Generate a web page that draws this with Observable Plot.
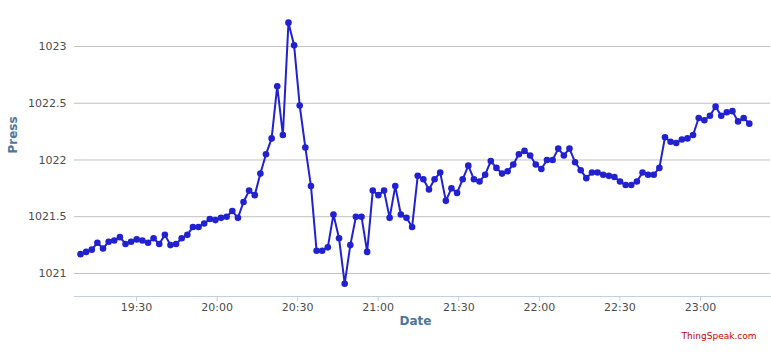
<!DOCTYPE html>
<html>
<head>
<meta charset="utf-8">
<script src="https://cdn.jsdelivr.net/npm/d3@7"></script>
<script src="https://cdn.jsdelivr.net/npm/@observablehq/plot@0.6"></script>
<style>
  html, body { margin: 0; padding: 0; background: #fff; }
  #chart { width: 771px; height: 358px; }
</style>
</head>
<body>
<div id="chart"></div>
<script>
const times = [
  "19:09:10","19:11:16","19:13:21","19:15:26","19:17:32","19:19:38","19:21:43","19:23:49","19:25:55","19:28:00",
  "19:30:05","19:32:11","19:34:17","19:36:22","19:38:28","19:40:34","19:42:39","19:44:44","19:46:50","19:48:56",
  "19:51:01","19:53:07","19:55:12","19:57:18","19:59:23","20:01:29","20:03:34","20:05:40","20:07:46","20:09:51",
  "20:11:56","20:14:02","20:16:08","20:18:13","20:20:19","20:22:24","20:24:30","20:26:35","20:28:41","20:30:46",
  "20:32:52","20:34:58","20:37:03","20:39:08","20:41:14","20:43:20","20:45:25","20:47:31","20:49:37","20:51:42",
  "20:53:47","20:55:53","20:57:59","21:00:04","21:02:10","21:04:15","21:06:21","21:08:26","21:10:32","21:12:37",
  "21:14:43","21:16:49","21:18:54","21:20:59","21:23:05","21:25:11","21:27:16","21:29:22","21:31:27","21:33:33",
  "21:35:38","21:37:44","21:39:49","21:41:55","21:44:01","21:46:06","21:48:11","21:50:17","21:52:23","21:54:28",
  "21:56:34","21:58:40","22:00:45","22:02:50","22:04:56","22:07:02","22:09:07","22:11:13","22:13:18","22:15:24",
  "22:17:29","22:19:35","22:21:40","22:23:46","22:25:52","22:27:57","22:30:02","22:32:08","22:34:14","22:36:19",
  "22:38:25","22:40:30","22:42:36","22:44:41","22:46:47","22:48:52","22:50:58","22:53:04","22:55:09","22:57:14",
  "22:59:20","23:01:26","23:03:31","23:05:37","23:07:43","23:09:48","23:11:53","23:13:59","23:16:05","23:18:10"
];
const press = [
  1021.17,1021.19,1021.21,1021.27,1021.22,1021.28,1021.29,1021.32,1021.26,1021.28,
  1021.30,1021.29,1021.27,1021.31,1021.26,1021.34,1021.25,1021.26,1021.31,1021.34,
  1021.41,1021.41,1021.44,1021.48,1021.47,1021.49,1021.50,1021.55,1021.49,1021.63,
  1021.73,1021.69,1021.88,1022.05,1022.19,1022.65,1022.22,1023.21,1023.01,1022.48,
  1022.11,1021.77,1021.20,1021.20,1021.23,1021.52,1021.31,1020.91,1021.25,1021.50,
  1021.50,1021.19,1021.73,1021.69,1021.73,1021.49,1021.77,1021.52,1021.49,1021.41,
  1021.86,1021.83,1021.74,1021.83,1021.89,1021.64,1021.75,1021.71,1021.83,1021.95,
  1021.83,1021.81,1021.87,1021.99,1021.93,1021.88,1021.90,1021.96,1022.05,1022.08,
  1022.04,1021.96,1021.92,1022.00,1022.00,1022.10,1022.04,1022.10,1021.98,1021.91,
  1021.84,1021.89,1021.89,1021.87,1021.86,1021.85,1021.81,1021.78,1021.78,1021.81,
  1021.89,1021.87,1021.87,1021.93,1022.20,1022.16,1022.15,1022.18,1022.19,1022.22,
  1022.37,1022.35,1022.39,1022.47,1022.39,1022.42,1022.43,1022.34,1022.37,1022.32
];
const xTickLabels = ["19:30","20:00","20:30","21:00","21:30","22:00","22:30","23:00"];
const yTicks = [1021, 1021.5, 1022, 1022.5, 1023];
const xTitle = "Date";
const yTitle = "Press";
const credit = "ThingSpeak.com";

const toDate = s => new Date(`2000-01-01T${s.length === 5 ? s + ":00" : s}Z`);
const data = times.map((t, i) => ({time: toDate(t), press: press[i]}));
const xTicks = xTickLabels.map(toDate);

const lineColor = "#2121d0";
const titleColor = "#4d759e";
const labelColor = "#4d4d4d";

const chart = Plot.plot({
  width: 771,
  height: 358,
  marginLeft: 74,
  marginRight: 1,
  marginTop: 10,
  marginBottom: 62,
  style: {fontFamily: "'DejaVu Sans', Verdana, sans-serif", background: "#fff"},
  x: {type: "utc", domain: [toDate("19:06:55"), toDate("23:26:04")]},
  y: {domain: [1020.797, 1023.317]},
  marks: [
    Plot.gridY(yTicks, {stroke: "#c0c0c0", strokeOpacity: 1}),
    Plot.axisY(yTicks, {tickSize: 0, tickPadding: 8, fontSize: 11, fill: labelColor, tickFormat: d => String(d), label: null}),
    Plot.frame({anchor: "bottom", stroke: "#c0d0e0"}),
    Plot.axisX(xTicks, {tickSize: 5, tickPadding: 2, stroke: "#c0d0e0", fontSize: 11, fill: labelColor, tickFormat: d3.utcFormat("%H:%M"), label: null}),
    Plot.line(data, {x: "time", y: "press", stroke: lineColor, strokeWidth: 2}),
    Plot.dot(data, {x: "time", y: "press", r: 3.3, fill: lineColor}),
    Plot.text([xTitle], {frameAnchor: "bottom", dx: -7, dy: 28, fontSize: 12, fontWeight: "bold", fill: titleColor}),
    Plot.text([yTitle], {frameAnchor: "left", dx: -61, rotate: -90, fontSize: 12, fontWeight: "bold", fill: titleColor}),
    Plot.text([credit], {frameAnchor: "bottom-right", textAnchor: "end", dx: -14, dy: 42, fontSize: 9, fill: "#cc0000"})
  ]
});
document.getElementById("chart").appendChild(chart);
</script>
</body>
</html>
